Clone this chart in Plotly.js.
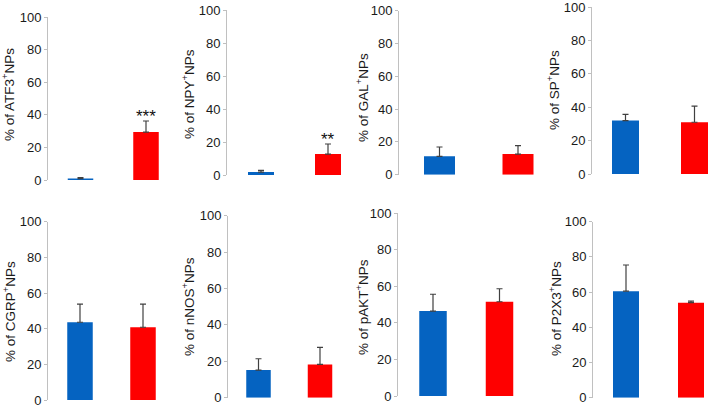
<!DOCTYPE html>
<html>
<head>
<meta charset="utf-8">
<script src="https://cdn.plot.ly/plotly-3.0.1.min.js"></script>
<style>html,body{margin:0;padding:0;background:#fff}#chart{width:710px;height:407px}</style>
</head>
<body>
<div id="chart"></div>
<script>
// ---- data ----
const markers = ['ATF3', 'NPY', 'GAL', 'SP', 'CGRP', 'nNOS', 'pAKT', 'P2X3'];
const groups = ['Group 1', 'Group 2'];
const blueMeans = [0.9, 1.8, 11.2, 32.0, 43.6, 15.2, 46.5, 60.5];
const blueErr   = [0.6, 1.0, 5.7, 3.7, 10.2, 6.2, 9.2, 14.9];
const redMeans  = [29.4, 12.7, 12.6, 31.0, 40.8, 18.3, 51.6, 54.0];
const redErr    = [6.8, 6.1, 5.1, 9.6, 13.0, 9.4, 7.1, 0.9];
const stars     = ['***', '**', '', '', '', '', '', ''];
const yTicks    = [0, 20, 40, 60, 80, 100];

// ---- panel geometry (pixels) ----
const W = 710, H = 407;
const geom = [
  {ax: 48,  c0: 80.5,  c1: 146,   y0: 180,   y100: 17,    bw: 25.5, tx: 8,   ty: 95},
  {ax: 227, c0: 261,   c1: 328,   y0: 175,   y100: 10,    bw: 26,   tx: 188, ty: 94},
  {ax: 399, c0: 439.5, c1: 518,   y0: 174.7, y100: 10.7,  bw: 31,   tx: 362, ty: 98},
  {ax: 592, c0: 625.5, c1: 694.5, y0: 174,   y100: 7,     bw: 27,   tx: 553, ty: 90},
  {ax: 48,  c0: 80,    c1: 143,   y0: 400,   y100: 221.7, bw: 25.5, tx: 9,   ty: 312},
  {ax: 228, c0: 258.5, c1: 320,   y0: 397.7, y100: 215.7, bw: 24.5, tx: 188, ty: 307},
  {ax: 398, c0: 433,   c1: 499.5, y0: 396,   y100: 213.3, bw: 27.5, tx: 362, ty: 307},
  {ax: 593, c0: 626,   c1: 691,   y0: 397.7, y100: 221.7, bw: 26,   tx: 555, ty: 309}
];

const BLUE = '#0563c1', RED = '#fe0000';
const FONT = 'Liberation Sans, Arial, sans-serif';

const traces = [];
const layout = {
  width: W, height: H,
  margin: {l: 0, r: 0, t: 0, b: 0},
  paper_bgcolor: '#fff', plot_bgcolor: 'rgba(0,0,0,0)',
  showlegend: false,
  annotations: []
};

markers.forEach((m, i) => {
  const g = geom[i];
  const unit = g.c1 - g.c0;
  const xEnd = Math.min(W, g.c1 + 0.5 * unit);
  const n = i + 1;
  const xa = 'x' + (n === 1 ? '' : n), ya = 'y' + (n === 1 ? '' : n);
  const xk = 'xaxis' + (n === 1 ? '' : n), yk = 'yaxis' + (n === 1 ? '' : n);
  const means = [blueMeans[i], redMeans[i]];
  const errs = [blueErr[i], redErr[i]];
  traces.push({
    type: 'bar', x: [0, 1], y: means, xaxis: xa, yaxis: ya,
    name: m, customdata: groups,
    width: g.bw / unit,
    marker: {color: [BLUE, RED], line: {width: 0}},
    error_y: {type: 'data', array: errs, arrayminus: [0, 0], symmetric: false,
              color: '#404040', thickness: 1.2, width: 3},
    hoverinfo: 'skip', textposition: 'none'
  });
  layout[xk] = {
    domain: [g.ax / W, xEnd / W],
    range: [(g.ax - g.c0) / unit, (xEnd - g.c0) / unit],
    anchor: ya, visible: false, fixedrange: true
  };
  layout[yk] = {
    domain: [1 - g.y0 / H, 1 - g.y100 / H],
    range: [0, 100], anchor: xa,
    tickvals: yTicks, ticktext: yTicks.map(String),
    ticks: 'outside', ticklen: 3, tickcolor: '#bfbfbf', tickwidth: 1,
    showline: true, linecolor: '#c0c0c0', linewidth: 1,
    showgrid: false, zeroline: false,
    ticklabeloverflow: 'allow',
    tickfont: {family: FONT, size: 13, color: '#1a1a1a'},
    fixedrange: true
  };
  layout.annotations.push({
    text: '% of ' + m + '<sup>+</sup>NPs',
    xref: 'paper', yref: 'paper',
    x: g.tx / W, y: 1 - g.ty / H, xanchor: 'center', yanchor: 'middle',
    textangle: -90, showarrow: false,
    font: {family: FONT, size: 13.5, color: '#1a1a1a'}
  });
  if (stars[i]) {
    layout.annotations.push({
      text: stars[i], xref: xa, yref: ya,
      x: 1, y: redMeans[i] + redErr[i], xanchor: 'center', yanchor: 'bottom',
      showarrow: false, yshift: -7,
      font: {family: FONT, size: 17, color: '#111'}
    });
  }
});

Plotly.newPlot('chart', traces, layout, {staticPlot: true, displayModeBar: false});
</script>
</body>
</html>
